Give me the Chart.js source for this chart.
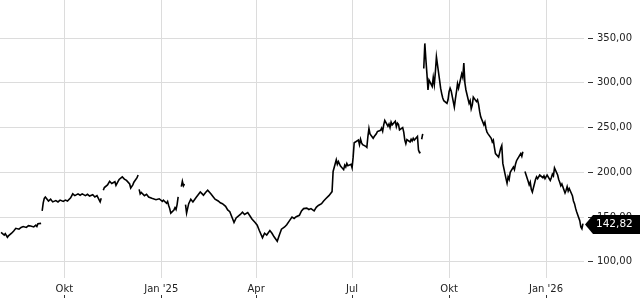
<!DOCTYPE html>
<html><head><meta charset="utf-8">
<script src="https://cdn.jsdelivr.net/npm/chart.js@4/dist/chart.umd.min.js"></script>
<style>html,body{margin:0;padding:0;background:#fff}canvas{display:block}</style>
</head><body>
<canvas id="c" width="640" height="300"></canvas>
<script>
// ---- data (null = gap in the price line) ----
const dates = [
 '2024-08-02','2024-08-05','2024-08-06','2024-08-08','2024-08-09','2024-08-12','2024-08-14','2024-08-16','2024-08-19','2024-08-21','2024-08-23','2024-08-26','2024-08-28','2024-08-30','2024-09-02','2024-09-04','2024-09-05','2024-09-06','2024-09-09','2024-09-09',
 '2024-09-10','2024-09-11','2024-09-12','2024-09-13','2024-09-16','2024-09-18','2024-09-20','2024-09-23','2024-09-25','2024-09-27','2024-09-30','2024-10-02','2024-10-04','2024-10-07','2024-10-09','2024-10-11','2024-10-14','2024-10-16','2024-10-18','2024-10-21','2024-10-23','2024-10-25','2024-10-28','2024-10-30','2024-11-01','2024-11-04','2024-11-05','2024-11-05',
 '2024-11-07','2024-11-08','2024-11-11','2024-11-13','2024-11-15','2024-11-18','2024-11-19','2024-11-21','2024-11-22','2024-11-25','2024-11-27','2024-11-29','2024-12-02','2024-12-03','2024-12-05','2024-12-06','2024-12-09','2024-12-10','2024-12-10',
 '2024-12-11','2024-12-12','2024-12-13','2024-12-16','2024-12-18','2024-12-20','2024-12-23','2024-12-27','2024-12-30','2025-01-02','2025-01-03','2025-01-06','2025-01-07','2025-01-08','2025-01-09','2025-01-10','2025-01-13','2025-01-14','2025-01-15','2025-01-16','2025-01-17','2025-01-17',
 '2025-01-20','2025-01-21','2025-01-22','2025-01-23','2025-01-23',
 '2025-01-24','2025-01-25','2025-01-27','2025-01-29','2025-01-31','2025-02-03','2025-02-05','2025-02-07','2025-02-10','2025-02-12','2025-02-14','2025-02-17','2025-02-19','2025-02-21','2025-02-24','2025-02-26','2025-02-28',
 '2025-03-03','2025-03-05','2025-03-07','2025-03-10','2025-03-11','2025-03-13','2025-03-17','2025-03-19','2025-03-21','2025-03-24','2025-03-26','2025-03-28','2025-03-31',
 '2025-04-02','2025-04-04','2025-04-07','2025-04-09','2025-04-11','2025-04-14','2025-04-16','2025-04-18','2025-04-21','2025-04-23','2025-04-25','2025-04-28','2025-04-30',
 '2025-05-02','2025-05-05','2025-05-07','2025-05-09','2025-05-12','2025-05-14','2025-05-16','2025-05-19','2025-05-21','2025-05-23','2025-05-26','2025-05-28','2025-05-30',
 '2025-06-02','2025-06-04','2025-06-06','2025-06-09','2025-06-11','2025-06-12','2025-06-13','2025-06-16','2025-06-17','2025-06-18','2025-06-20','2025-06-23','2025-06-24','2025-06-25','2025-06-26','2025-06-27','2025-06-30',
 '2025-07-01','2025-07-02','2025-07-03','2025-07-07','2025-07-08','2025-07-09','2025-07-10','2025-07-11','2025-07-14','2025-07-15','2025-07-16','2025-07-17','2025-07-18','2025-07-21','2025-07-22','2025-07-24','2025-07-25','2025-07-28','2025-07-29','2025-07-30','2025-07-31',
 '2025-08-01','2025-08-04','2025-08-05','2025-08-06','2025-08-07','2025-08-08','2025-08-11','2025-08-12','2025-08-13','2025-08-14','2025-08-15','2025-08-18','2025-08-19','2025-08-20','2025-08-21','2025-08-22','2025-08-25','2025-08-26','2025-08-27','2025-08-28','2025-08-29',
 '2025-09-01','2025-09-02','2025-09-03','2025-09-04','2025-09-04',
 '2025-09-05','2025-09-06','2025-09-06',
 '2025-09-07','2025-09-08','2025-09-09','2025-09-10','2025-09-11','2025-09-12','2025-09-15','2025-09-16','2025-09-17','2025-09-18','2025-09-19','2025-09-22','2025-09-23','2025-09-24','2025-09-25','2025-09-26','2025-09-29','2025-09-30',
 '2025-10-01','2025-10-02','2025-10-03','2025-10-06','2025-10-07','2025-10-08','2025-10-09','2025-10-10','2025-10-13','2025-10-14','2025-10-15','2025-10-16','2025-10-17','2025-10-20','2025-10-21','2025-10-22','2025-10-23','2025-10-24','2025-10-27','2025-10-28','2025-10-29','2025-10-30','2025-10-31',
 '2025-11-03','2025-11-04','2025-11-05','2025-11-06','2025-11-07','2025-11-10','2025-11-11','2025-11-12','2025-11-13','2025-11-14','2025-11-17','2025-11-18','2025-11-19','2025-11-20','2025-11-21','2025-11-24','2025-11-25','2025-11-26','2025-11-27','2025-11-28',
 '2025-12-01','2025-12-02','2025-12-03','2025-12-04','2025-12-05','2025-12-08','2025-12-09','2025-12-10','2025-12-10',
 '2025-12-12','2025-12-15','2025-12-16','2025-12-17','2025-12-18','2025-12-19','2025-12-22','2025-12-23','2025-12-24','2025-12-26','2025-12-29','2025-12-30','2025-12-31',
 '2026-01-02','2026-01-05','2026-01-06','2026-01-07','2026-01-08','2026-01-09','2026-01-12','2026-01-13','2026-01-14','2026-01-15','2026-01-16','2026-01-19','2026-01-20','2026-01-21','2026-01-22','2026-01-23','2026-01-26','2026-01-27','2026-01-28','2026-01-29','2026-01-30',
 '2026-02-02','2026-02-03','2026-02-04','2026-02-05'
];
const prices = [
 133,130,131.5,127.5,129,132,134.5,137.5,136.5,138.5,139.5,138.5,140.5,140,139,141,139.5,142.5,143,null,
 157,166,171,172.5,168,170,167,168.5,167,169,167.5,169,168,171.5,176,174,176,174.5,176,174,175.5,173.5,175,172.5,174,167,171,null,
 180,183,186,190,187.5,189.5,185.5,190,192,195,192.5,191,187,182.5,186,189,194,197,null,
 181,176,177.5,174,175.5,172.5,171,169.5,170.5,167.5,169,165.5,167.5,163,159.5,154.5,158,160.5,158.5,164,172.5,null,
 184,190,185,187,null,
 164,154.5,165,170,167,172,175,178,174.5,177.5,180,176,173,170,168,166,165,
 162,158,156,147,144,149,153,155.5,153,155,151.5,148,144,
 141,135,127,132,130,135,132,128,123,130,136.5,139,141.5,
 145,150,148.5,150.5,152,157,159.5,160,158.5,159.5,157,161,163,
 165,168,170.5,174,177,178.5,201,214,209,212,207,203,208,206,210,207.5,209,
 205,217,233,236,231,237,233,231,229,228,240,249,243,238,240,243,245.5,247,249.5,246,253,
 258,251.5,254,250,256,253,257,251,255,253.5,247.5,250,245,236,232,236.5,234,237,235,238,236,
 240,225,222,222.5,null,
 237,243,null,
 316,344,326,310,292,303,296,306,298,312,329,303,294,288,283,280,277,281,
 290,294,291,273,282,290,299,294,310,306,322,300,292,277,280,271,275,284,279,281,276,268,262,
 253,256,249,245,243,238,234,236,228,221,217,222,227,230,210,193,188,195,192,200,
 206,203,209,213,215,221,218,223,null,
 201,190,186,189,181,178,192,195,193,197,194,196,193,
 197,191,194,198,196,205,197,192,189,185,187,177,180,184,179,182,174,168,165,160,156,
 146,139,137,142.82
];
const xTickDates = ['2024-10-01','2025-01-01','2025-04-01','2025-07-01','2025-10-01','2026-01-01'];
const xTickLabels = ['Okt', "Jan '25", 'Apr', 'Jul', 'Okt', "Jan '26"];
const yTicks = [100, 150, 200, 250, 300, 350];
const xRange = ['2024-08-01', '2026-02-06'];
const yRange = [82, 392.5];

// ---- helpers ----
const DAY = 86400000, BASE = Date.UTC(2024, 9, 1);
const dayOf = s => (Date.parse(s) - BASE) / DAY;
const fmt = v => v.toFixed(2).replace('.', ',');
const points = dates.map((d, i) => ({ x: dayOf(d), y: prices[i] }));
const lastPrice = prices.filter(v => v !== null).slice(-1)[0];

const lastLabel = {
  id: 'lastLabel',
  afterDraw(chart) {
    const { ctx, chartArea, scales: { y } } = chart;
    const py = Math.round(y.getPixelForValue(lastPrice)) + 0.5;
    const x0 = chartArea.right + 1, x1 = x0 + 8, x2 = chart.width, h = 9.5;
    ctx.save();
    ctx.fillStyle = '#000';
    ctx.beginPath();
    ctx.moveTo(x0, py); ctx.lineTo(x1, py - h); ctx.lineTo(x2, py - h);
    ctx.lineTo(x2, py + h); ctx.lineTo(x1, py + h); ctx.closePath(); ctx.fill();
    ctx.fillStyle = '#fff';
    ctx.font = '10.5px "DejaVu Sans"';
    ctx.textBaseline = 'middle'; ctx.textAlign = 'left';
    ctx.fillText(fmt(lastPrice), x1 + 3, py);
    ctx.restore();
  }
};

const FONT = { family: 'DejaVu Sans', size: 10 };
new Chart(document.getElementById('c'), {
  type: 'line',
  data: { datasets: [{ data: points, borderColor: '#000', borderWidth: 1.6, pointRadius: 0, tension: 0, fill: false, spanGaps: false }] },
  options: {
    responsive: false, animation: false, devicePixelRatio: 1,
    layout: { padding: 0 },
    plugins: { legend: { display: false }, tooltip: { enabled: false } },
    scales: {
      x: {
        type: 'linear', position: 'bottom',
        min: dayOf(xRange[0]), max: dayOf(xRange[1]),
        afterBuildTicks: s => { s.ticks = xTickDates.map(d => ({ value: dayOf(d) })); },
        afterFit: s => { s.height = 22; s.paddingLeft = 0; s.paddingRight = 0; },
        grid: { color: '#dcdcdc', lineWidth: 1, drawTicks: true, tickLength: 20, tickColor: '#333', tickWidth: 1, tickBorderDash: [0, 17, 3] },
        border: { display: false },
        ticks: { autoSkip: false, maxRotation: 0, minRotation: 0, padding: -15, color: '#222', font: FONT,
                 callback: (v, i) => xTickLabels[i] }
      },
      y: {
        type: 'linear', position: 'right',
        min: yRange[0], max: yRange[1],
        afterBuildTicks: s => { s.ticks = yTicks.map(v => ({ value: v })); },
        afterFit: s => { s.width = 56; s.paddingTop = 0; s.paddingBottom = 0; },
        grid: { color: '#dcdcdc', lineWidth: 1, drawTicks: true, tickLength: 9, tickColor: '#333', tickWidth: 1, tickBorderDash: [0, 4, 5] },
        border: { display: false },
        ticks: { padding: 4, color: '#222', font: FONT, callback: v => fmt(v) }
      }
    }
  },
  plugins: [lastLabel]
});
</script>
</body></html>
